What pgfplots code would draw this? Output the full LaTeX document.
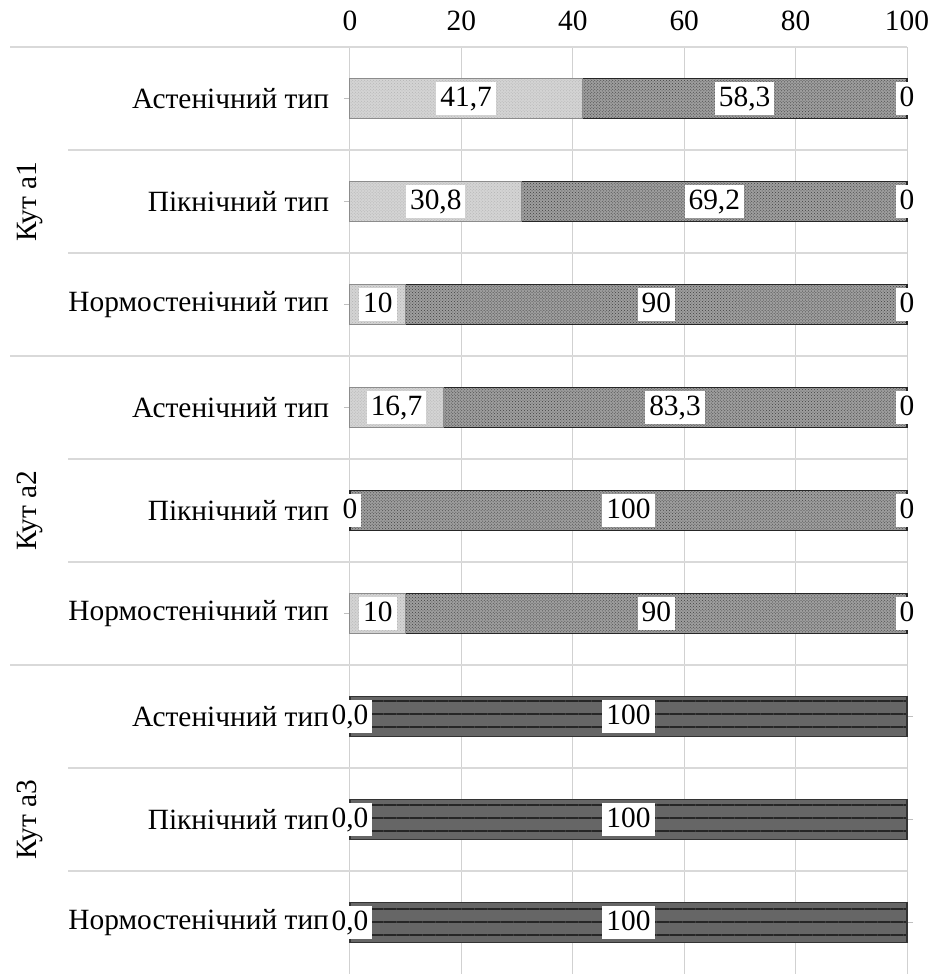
\documentclass[border=0pt]{standalone}
\usepackage{fontspec}
\setmainfont{Liberation Serif}
\usepackage{pgfplots}
\usepackage{pgfplotstable}
\pgfplotsset{compat=1.18}
\usetikzlibrary{patterns,patterns.meta}

\pgfplotstableread{
row a   la   b    lb   w   lw  c  lc
0   41.7 41,7 58.3 58,3 0   -   0  0
1   30.8 30,8 69.2 69,2 0   -   0  0
2   10   10   90   90   0   -   0  0
3   16.7 16,7 83.3 83,3 0   -   0  0
4   0    0    100  100  0   -   0  0
5   10   10   90   90   0   -   0  0
6   0    0,0  0    -    100 100 0  -
7   0    0,0  0    -    100 100 0  -
8   0    0,0  0    -    100 100 0  -
}\data

\def\nolabel{-}
\newcommand\barlabel{\edef\tmplbl{\pgfplotspointmeta}\ifx\tmplbl\nolabel\else\colorbox{white}{\rule[-5bp]{0pt}{25bp}\pgfplotspointmeta}\fi}
\setlength\fboxsep{4bp}

\pgfplotsset{
  common/.style={at={(0,0)}, anchor=south west,
    scale only axis, width=557bp, height=927bp,
    xmin=0, xmax=100, ymin=-0.5, ymax=8.5, y dir=reverse,
    enlargelimits=false, clip=false},
}

\begin{document}
\fontsize{29.5}{35}\selectfont
\begin{tikzpicture}
\begin{axis}[
  common, name=ax,
  xbar stacked, bar width=0.39,
  axis line style={draw=none},
  xtick={0,20,...,100}, xticklabel pos=upper,
  xtick style={draw=none},
  xmajorgrids, grid style={black!18, line width=1bp},
  ytick={0,...,8},
  yticklabels={Астенічний тип, Пікнічний тип, Нормостенічний тип,
               Астенічний тип, Пікнічний тип, Нормостенічний тип,
               Астенічний тип, Пікнічний тип, Нормостенічний тип},
  yticklabel style={xshift=-5bp},
  ytick style={black!25, line width=1bp}, major tick length=6bp, tick align=outside,
  /pgf/number format/assume math mode=true,
]
\addplot[fill=black!17, draw=black!45, line width=1bp,
  postaction={pattern=crosshatch dots, pattern color=black!30}]
  table[x=a, y=row] {\data};
\addplot[fill=black!38, draw=black!85, line width=1.5bp,
  postaction={pattern=crosshatch dots, pattern color=black!75}]
  table[x=b, y=row] {\data};
\addplot[fill=black!60, draw=black!80, line width=1.5bp,
  postaction={pattern={Lines[angle=0,distance=13bp,line width=2bp]}, pattern color=black!85}]
  table[x=w, y=row] {\data};
\addplot[fill=white, draw=black!85, line width=1.5bp]
  table[x=c, y=row] {\data};
% row separators
\pgfplotsinvokeforeach{0.5,1.5,3.5,4.5,6.5,7.5}{
  \draw[black!15, line width=1.2bp] (axis cs:-50.6,#1) -- (axis cs:100,#1);
}
\pgfplotsinvokeforeach{-0.5,2.5,5.5}{
  \draw[black!15, line width=1.2bp] (axis cs:-61,#1) -- (axis cs:100,#1);
}
\node[rotate=90] at (axis cs:-57.5,1) {Кут a1};
\node[rotate=90] at (axis cs:-57.5,4) {Кут a2};
\node[rotate=90] at (axis cs:-57.5,7) {Кут a3};
\end{axis}
% overlay axis for the value labels, centred in each segment
\begin{axis}[
  common, hide axis,
  lbl/.style={only marks, mark=none,
    point meta=explicit symbolic, nodes near coords={\barlabel},
    every node near coord/.append style={anchor=center, inner sep=0pt}},
]
\addplot[lbl] table[x expr={\thisrow{a}/2}, y=row, meta=la] {\data};
\addplot[lbl] table[x expr={\thisrow{a}+\thisrow{b}/2}, y=row, meta=lb] {\data};
\addplot[lbl] table[x expr={\thisrow{a}+\thisrow{b}+\thisrow{w}/2}, y=row, meta=lw] {\data};
\addplot[lbl] table[x expr={\thisrow{a}+\thisrow{b}+\thisrow{w}+\thisrow{c}/2}, y=row, meta=lc] {\data};
\end{axis}
\pgfresetboundingbox
\path ([xshift=-350bp]ax.south west) rectangle ([xshift=580bp,yshift=974bp]ax.south west);
\end{tikzpicture}
\end{document}
